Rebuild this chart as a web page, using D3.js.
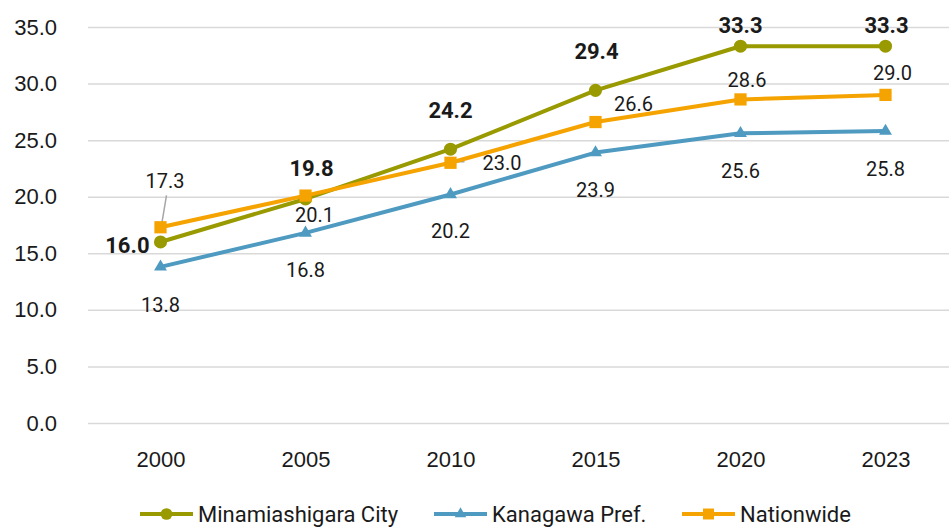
<!DOCTYPE html>
<html>
<head>
<meta charset="utf-8">
<script src="https://cdn.jsdelivr.net/npm/d3@7"></script>
<style>
  body { margin: 0; background: #fff; }
  svg { display: block; font-family: Roboto, "Liberation Sans", sans-serif; }
  .grid line { stroke: #d9d9d9; stroke-width: 1.5; }
  .grid text, .xaxis text { font-size: 22px; fill: #1a1a1a; }
  .lbl { font-size: 20px; fill: #1a1a1a; }
  .lbl.bold { font-size: 22px; font-weight: bold; }
  .legend text { font-size: 22px; fill: #1a1a1a; }
</style>
</head>
<body>
<svg></svg>
<script>
// data
const years = ["2000", "2005", "2010", "2015", "2020", "2023"];
const minamiashigara = [16.0, 19.8, 24.2, 29.4, 33.3, 33.3];
const kanagawa = [13.8, 16.8, 20.2, 23.9, 25.6, 25.8];
const nationwide = [17.3, 20.1, 23.0, 26.6, 28.6, 29.0];
const yTicks = [0, 5, 10, 15, 20, 25, 30, 35];

const width = 949;
const height = 528;

const svg = d3.select("svg").attr("width", width).attr("height", height);

// scales
const x = d3.scalePoint().domain(years).range([88, 958]).padding(0.5);
const y = d3.scaleLinear().domain([0, 35]).range([423, 27]);

// series, drawn blue first so orange sits on top
const series = [
  {
    name: "Kanagawa Pref.", values: kanagawa, color: "#4e9ac1",
    symbol: d3.symbolTriangle, size: 72, bold: false,
    // label offsets [dx, dy, anchor]
    offs: [[0, 45], [0, 44], [0, 44], [0, 44.5], [0, 45], [0, 45]]
  },
  {
    name: "Minamiashigara City", values: minamiashigara, color: "#999900",
    symbol: d3.symbolCircle, size: 135, bold: true,
    offs: [[-11, 11, "end"], [6, -23], [0, -31], [1, -31], [0, -13], [1, -13]]
  },
  {
    name: "Nationwide", values: nationwide, color: "#f5a300",
    symbol: d3.symbolSquare, size: 150, bold: false,
    offs: [[4.5, -39], [9, 26], [32, 7, "start"], [38, -11], [6.5, -12.5], [7, -15]]
  }
];

// gridlines + y labels
svg.append("g")
  .attr("class", "grid")
  .attr("transform", "translate(88,0)")
  .call(d3.axisLeft(y).tickValues(yTicks).tickSize(-(width - 88)).tickPadding(31)
    .tickFormat(d3.format(".1f")))
  .call(g => g.select(".domain").remove());

// x labels
svg.append("g")
  .attr("class", "xaxis")
  .attr("transform", "translate(0,423)")
  .call(d3.axisBottom(x).tickSize(0).tickPadding(28.5))
  .call(g => g.select(".domain").remove());

// leader lines (Nationwide 2000 and 2010)
const leaders = svg.append("g").attr("stroke", "#a6a6a6").attr("stroke-width", 1.5);
leaders.append("line")
  .attr("x1", x("2000") + 6).attr("y1", y(nationwide[0]) - 32)
  .attr("x2", x("2000") + 1).attr("y2", y(nationwide[0]) - 2);
leaders.append("line")
  .attr("x1", x("2010")).attr("y1", y(nationwide[2]) - 1)
  .attr("x2", x("2010") + 14).attr("y2", y(nationwide[2]) - 1);

const line = d3.line()
  .x((d, i) => x(years[i]))
  .y(d => y(d));

series.forEach(s => {
  const g = svg.append("g").attr("class", "series");
  g.append("path")
    .attr("d", line(s.values))
    .attr("fill", "none")
    .attr("stroke", s.color)
    .attr("stroke-width", 4)
    .attr("stroke-linejoin", "round");
  g.selectAll("path.marker")
    .data(s.values)
    .enter()
    .append("path")
    .attr("class", "marker")
    .attr("transform", (d, i) => `translate(${x(years[i])},${y(d)})`)
    .attr("d", d3.symbol().type(s.symbol).size(s.size))
    .attr("fill", s.color);
});

// data labels
series.forEach(s => {
  svg.append("g")
    .selectAll("text")
    .data(s.values)
    .enter()
    .append("text")
    .attr("class", s.bold ? "lbl bold" : "lbl")
    .attr("x", (d, i) => x(years[i]) + s.offs[i][0])
    .attr("y", (d, i) => y(d) + s.offs[i][1])
    .attr("text-anchor", (d, i) => s.offs[i][2] || "middle")
    .text(d => d.toFixed(1));
});

// legend
const legendOrder = [series[1], series[0], series[2]];
const legendX = [140, 434, 682];
const legend = svg.append("g").attr("class", "legend");
legendOrder.forEach((s, i) => {
  const lg = legend.append("g").attr("transform", `translate(${legendX[i]},514)`);
  lg.append("line")
    .attr("x1", 0).attr("x2", 53)
    .attr("stroke", s.color).attr("stroke-width", 4);
  lg.append("path")
    .attr("transform", "translate(26.5,0)")
    .attr("d", d3.symbol().type(s.symbol).size(s.size * 0.8))
    .attr("fill", s.color);
  lg.append("text")
    .attr("x", 58)
    .attr("dy", "0.35em")
    .text(s.name);
});
</script>
</body>
</html>
